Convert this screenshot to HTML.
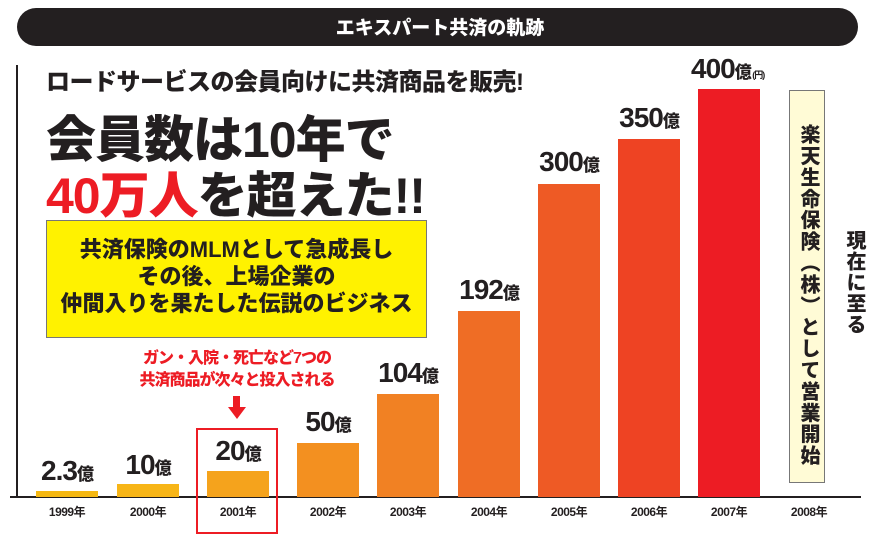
<!DOCTYPE html>
<html><head><meta charset="utf-8"><style>
body{margin:0;width:880px;height:535px;background:#fff;position:relative;overflow:hidden;font-family:"Liberation Sans","Noto Sans CJK JP",sans-serif;font-weight:900;color:#231f20}
.a{position:absolute;white-space:nowrap}
.bar{position:absolute;width:62px;bottom:38px}
.v{position:absolute;font-size:28px;letter-spacing:-1px;text-align:center;width:110px;font-weight:900}
.v small{font-size:17px}
.y{position:absolute;top:503px;font-size:12px;font-weight:700;width:80px;text-align:center;letter-spacing:-0.5px}
</style></head><body>
<div class="a" style="left:17px;top:8px;width:841px;height:38px;background:#231f20;border-radius:19px"></div>
<div class="a" style="left:0;width:880px;top:13px;text-align:center;color:#fff;font-size:19px">エキスパート共済の軌跡</div>
<div class="a" style="left:16px;top:65px;width:2px;height:433px;background:#231f20"></div>
<div class="a" style="left:10px;top:496px;width:851px;height:2px;background:#231f20"></div>
<div class="a" style="left:46px;top:62px;font-size:24px;letter-spacing:-0.5px">ロードサービスの会員向けに共済商品を販売!</div>
<div class="a" style="left:46px;top:100px;font-size:50px;letter-spacing:-1px">会員数は10年で</div>
<div class="a" style="left:46px;top:156px;font-size:50px;letter-spacing:-1px"><span style="color:#ed1c24">40万人</span>を超えた!!</div>
<div class="a" style="left:46px;top:220px;width:381px;height:118px;background:#fff200;border:1px solid #777;box-sizing:border-box"></div>
<div class="a" style="left:46px;width:381px;top:236px;text-align:center;font-size:22px;line-height:27px">共済保険のMLMとして急成長し<br>その後、上場企業の<br>仲間入りを果たした伝説のビジネス</div>

<div class="bar" style="left:36px;height:6px;background:#f5b812"></div>
<div class="bar" style="left:117px;height:13px;background:#f7b517"></div>
<div class="bar" style="left:207px;height:26px;background:#f5a31c"></div>
<div class="bar" style="left:297px;height:54px;background:#f39020"></div>
<div class="bar" style="left:377px;height:103px;background:#f18123"></div>
<div class="bar" style="left:458px;height:186px;background:#ef6d25"></div>
<div class="bar" style="left:538px;height:313px;background:#ee5a25"></div>
<div class="bar" style="left:618px;height:358px;background:#ee4323"></div>
<div class="bar" style="left:698px;height:408px;background:#ed1c24"></div>

<div class="v" style="left:12px;top:455px">2.3<small>億</small></div>
<div class="v" style="left:93px;top:449px">10<small>億</small></div>
<div class="v" style="left:183px;top:435px">20<small>億</small></div>
<div class="v" style="left:273px;top:406px">50<small>億</small></div>
<div class="v" style="left:353px;top:357px">104<small>億</small></div>
<div class="v" style="left:434px;top:274px">192<small>億</small></div>
<div class="v" style="left:514px;top:146px">300<small>億</small></div>
<div class="v" style="left:594px;top:102px">350<small>億</small></div>
<div class="a" style="left:691px;top:53px;font-size:28px;letter-spacing:-1px">400<small style="font-size:17px">億</small><span style="font-size:9px;font-weight:700"> (円)</span></div>

<div class="a" style="left:196px;top:428px;width:82px;height:106px;border:2px solid #ed1c24;box-sizing:border-box"></div>
<div class="a" style="left:120px;width:234px;top:348px;text-align:center;color:#ed1c24;font-size:16px;line-height:22px;letter-spacing:-1px">ガン・入院・死亡など7つの<br>共済商品が次々と投入される</div>
<div class="a" style="left:233px;top:396px;width:7px;height:12px;background:#ed1c24"></div>
<div class="a" style="left:228px;top:407px;width:0;height:0;border-left:9px solid transparent;border-right:9px solid transparent;border-top:12px solid #ed1c24"></div>

<div class="a" style="left:789px;top:90px;width:36px;height:393px;background:#fffbd6;border:1px solid #777;box-sizing:border-box"></div>
<div class="a" style="left:795px;top:124px;width:26px;font-size:20px;line-height:26px;letter-spacing:1.4px;writing-mode:vertical-rl;text-orientation:upright">楽天生命保険︵株︶として営業開始</div>
<div class="a" style="left:841px;top:230px;width:26px;font-size:20px;line-height:26px;letter-spacing:1px;writing-mode:vertical-rl;text-orientation:upright">現在に至る</div>

<div class="y" style="left:27px">1999年</div>
<div class="y" style="left:108px">2000年</div>
<div class="y" style="left:198px">2001年</div>
<div class="y" style="left:288px">2002年</div>
<div class="y" style="left:368px">2003年</div>
<div class="y" style="left:449px">2004年</div>
<div class="y" style="left:529px">2005年</div>
<div class="y" style="left:609px">2006年</div>
<div class="y" style="left:689px">2007年</div>
<div class="y" style="left:769px">2008年</div>
</body></html>
